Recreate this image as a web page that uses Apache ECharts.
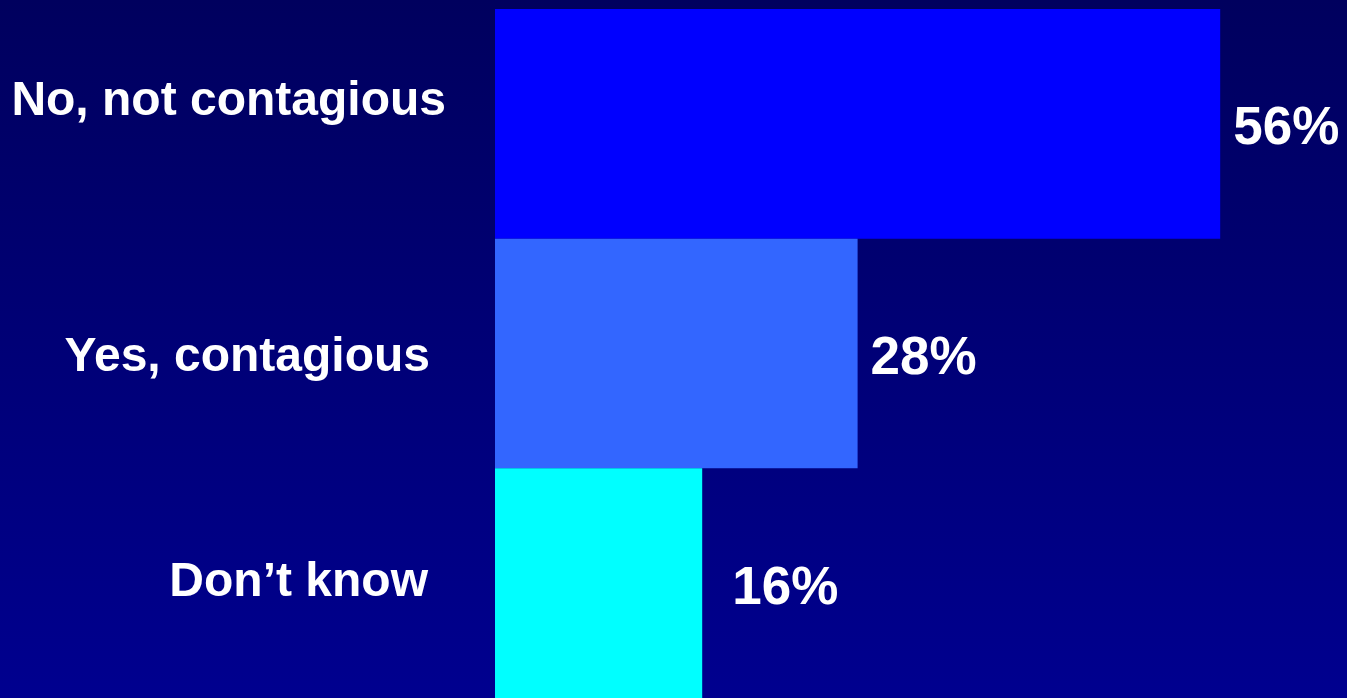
<!DOCTYPE html>
<html>
<head>
<meta charset="utf-8">
<script src="https://cdn.jsdelivr.net/npm/echarts@6/dist/echarts.min.js"></script>
<style>
  html, body { margin: 0; padding: 0; }
  #chart { width: 1347px; height: 698px; }
</style>
</head>
<body>
<div id="chart"></div>
<script>
// Survey answers and their shares (%)
const categories = ['No, not contagious', 'Yes, contagious', 'Don\u2019t know'];
const values = [56, 28, 16];
const barColors = ['#0000FF', '#3366FF', '#00FFFF'];

// per-answer label tweaks
const richKeys = ['a', 'b', 'c'];
const valueLabelDistance = [13, 13, 30];

const chart = echarts.init(document.getElementById('chart'), null, { renderer: 'canvas' });

const font = '"Liberation Sans", Arial, Helvetica, sans-serif';

chart.setOption({
  animation: false,
  backgroundColor: {
    type: 'linear', x: 0, y: 0, x2: 0, y2: 1,
    colorStops: [
      { offset: 0, color: '#00005E' },
      { offset: 1, color: '#00008F' }
    ]
  },
  grid: { left: 495, top: 9, width: 777, height: 694, containLabel: false },
  xAxis: {
    type: 'value', min: 0, max: 60,
    show: false
  },
  yAxis: {
    type: 'category',
    inverse: true,
    data: categories,
    axisLine: { show: false },
    axisTick: { show: false },
    splitLine: { show: false },
    axisLabel: {
      margin: 49,
      align: 'right',
      formatter: function (v, i) { return '{' + richKeys[i] + '|' + v + '}'; },
      rich: {
        a: { color: '#FFFFFF', fontFamily: font, fontWeight: 'bold', fontSize: 48, padding: [0, 0, 44, 0] },
        b: { color: '#FFFFFF', fontFamily: font, fontWeight: 'bold', fontSize: 48, padding: [8, 16, 0, 0] },
        c: { color: '#FFFFFF', fontFamily: font, fontWeight: 'bold', fontSize: 48, padding: [0, 18, 0, 0] }
      }
    }
  },
  series: [{
    type: 'bar',
    barCategoryGap: 0,
    data: values.map(function (v, i) {
      return {
        value: v,
        itemStyle: { color: barColors[i] },
        label: { distance: valueLabelDistance[i] }
      };
    }),
    label: {
      show: true,
      position: 'right',
      formatter: '{c}%',
      color: '#FFFFFF',
      fontFamily: font,
      fontWeight: 'bold',
      fontSize: 53,
      offset: [0, 6]
    }
  }]
});
</script>
</body>
</html>
